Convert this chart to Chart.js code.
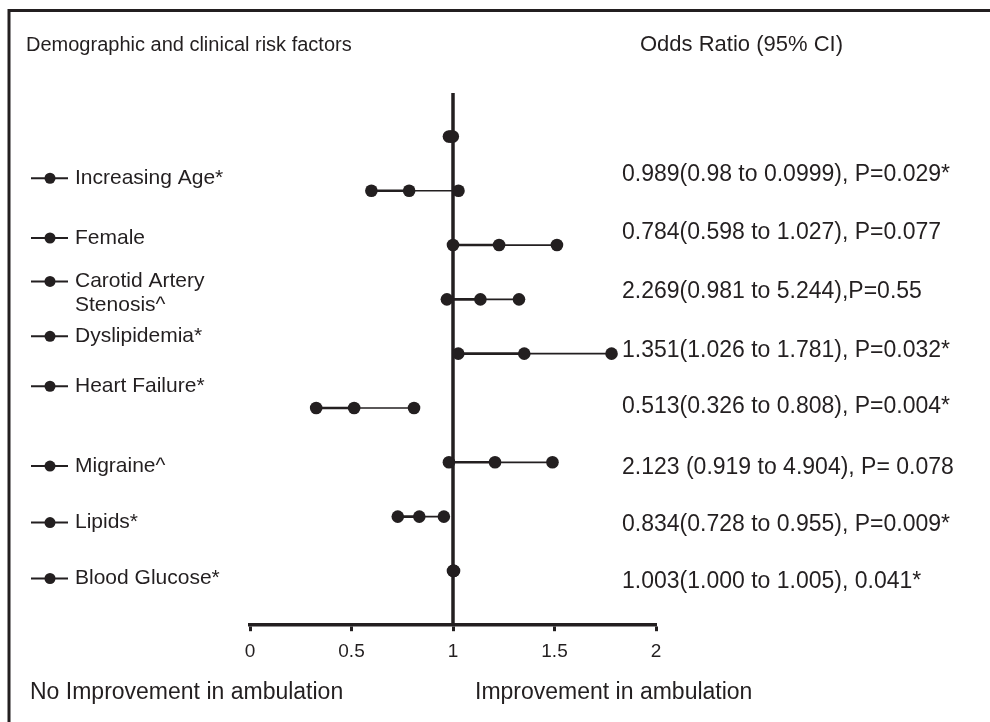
<!DOCTYPE html>
<html>
<head>
<meta charset="utf-8">
<script src="https://cdn.jsdelivr.net/npm/chart.js@4.4.1/dist/chart.umd.min.js"></script>
<style>
  html, body { margin: 0; padding: 0; background: #fff; }
  #wrap { width: 990px; height: 722px; }
</style>
</head>
<body>
<div id="wrap"><canvas id="forest" width="990" height="722"></canvas></div>
<script>
// Rows of the forest plot, top to bottom. Row 0 is the unlabeled dot at the top.
const factorLabels = ['', 'Increasing Age*', 'Female', ['Carotid Artery', 'Stenosis^'], 'Dyslipidemia*',
    'Heart Failure*', 'Migraine^', 'Lipids*', 'Blood Glucose*'];
const oddsLabels = ['', '0.989(0.98 to 0.0999), P=0.029*', '0.784(0.598 to 1.027), P=0.077',
    '2.269(0.981 to 5.244),P=0.55', '1.351(1.026 to 1.781), P=0.032*', '0.513(0.326 to 0.808), P=0.004*',
    '2.123 (0.919 to 4.904), P= 0.078', '0.834(0.728 to 0.955), P=0.009*', '1.003(1.000 to 1.005), 0.041*'];

// points as drawn in the figure (left, middle, right dot of each row)
const lowValues = [0.98, 0.598, 1.0, 0.97, 1.026, 0.326, 0.98, 0.728, 1.000];
const midValues = [0.989, 0.784, 1.227, 1.135, 1.351, 0.513, 1.207, 0.834, 1.003];
const highValues = [0.999, 1.027, 1.512, 1.325, 1.781, 0.808, 1.49, 0.955, 1.005];

const xTickValues = [0, 0.5, 1, 1.5, 2];

const INK = '#231f20';
const FONT = '"Liberation Sans", Arial, sans-serif';

// text placement in row units of the y scale
const labelRows = [null, 0.77, 1.87, [2.67, 3.11], 3.68, 4.6, 6.07, 7.11, 8.14];
const oddsRows = [null, 0.7, 1.78, 2.85, 3.95, 4.98, 6.1, 7.15, 8.2];

function rowDataset(i) {
    return {
        data: [
            { x: lowValues[i], y: i },
            { x: midValues[i], y: i },
            { x: highValues[i], y: i }
        ],
        showLine: true,
        borderColor: INK,
        borderWidth: 2,
        segment: {
            // left half of each whisker is drawn heavier than the right half
            borderWidth: ctx => ctx.p0DataIndex === 0 ? 2.6 : 1.7
        },
        pointRadius: 6.3,
        pointBorderWidth: 0,
        pointBackgroundColor: INK
    };
}

const datasets = factorLabels.map((_, i) => rowDataset(i));
// the line of no effect at OR = 1
datasets.push({
    data: [{ x: 1, y: -0.8 }, { x: 1, y: 9 }],
    showLine: true,
    borderColor: INK,
    borderWidth: 3.5,
    pointRadius: 0
});

const textPlugin = {
    id: 'forestText',
    afterDraw(chart) {
        const ctx = chart.ctx;
        const yScale = chart.scales.y;
        ctx.save();
        ctx.fillStyle = INK;
        ctx.strokeStyle = INK;

        // frame (only top and left edges show)
        ctx.lineWidth = 3;
        ctx.beginPath();
        ctx.moveTo(9, 722);
        ctx.lineTo(9, 10.5);
        ctx.lineTo(990, 10.5);
        ctx.stroke();

        ctx.textBaseline = 'middle';
        ctx.font = '20px ' + FONT;
        ctx.fillText('Demographic and clinical risk factors', 26, 45);
        ctx.font = '22px ' + FONT;
        ctx.fillText('Odds Ratio (95% CI)', 640, 45);

        // left labels with a legend-like marker
        factorLabels.forEach((label, i) => {
            if (!label) return;
            const rows = Array.isArray(labelRows[i]) ? labelRows[i] : [labelRows[i]];
            const lines = Array.isArray(label) ? label : [label];
            const y0 = yScale.getPixelForValue(rows[0]);
            ctx.lineWidth = 2;
            ctx.beginPath();
            ctx.moveTo(31, y0);
            ctx.lineTo(68, y0);
            ctx.stroke();
            ctx.beginPath();
            ctx.arc(50, y0, 5.5, 0, Math.PI * 2);
            ctx.fill();
            ctx.font = '21px ' + FONT;
            lines.forEach((line, k) => {
                ctx.fillText(line, 75, yScale.getPixelForValue(rows[k]));
            });
        });

        // odds ratio column
        ctx.font = '23px ' + FONT;
        oddsLabels.forEach((txt, i) => {
            if (!txt) return;
            ctx.fillText(txt, 622, yScale.getPixelForValue(oddsRows[i]));
        });

        // direction captions
        ctx.font = '23px ' + FONT;
        ctx.fillText('No Improvement in ambulation', 30, 693);
        ctx.fillText('Improvement in ambulation', 475, 693);
        ctx.restore();
    }
};

new Chart(document.getElementById('forest'), {
    type: 'scatter',
    data: { datasets: datasets },
    options: {
        responsive: false,
        animation: false,
        layout: { padding: { left: 250, right: 334, top: 93, bottom: 50 } },
        plugins: {
            legend: { display: false },
            tooltip: { enabled: false }
        },
        scales: {
            x: {
                type: 'linear',
                min: 0,
                max: 2,
                afterBuildTicks: scale => {
                    scale.ticks = xTickValues.map(v => ({ value: v }));
                },
                ticks: {
                    color: INK,
                    padding: 9,
                    font: { family: FONT, size: 19 },
                    callback: value => String(value)
                },
                grid: {
                    drawOnChartArea: false,
                    drawTicks: true,
                    tickLength: 6,
                    tickWidth: 3,
                    tickColor: INK,
                    color: INK
                },
                border: { display: true, color: INK, width: 3.5 }
            },
            y: {
                type: 'linear',
                display: false,
                reverse: true,
                min: -0.8,
                max: 9
            }
        }
    },
    plugins: [textPlugin]
});
</script>
</body>
</html>
